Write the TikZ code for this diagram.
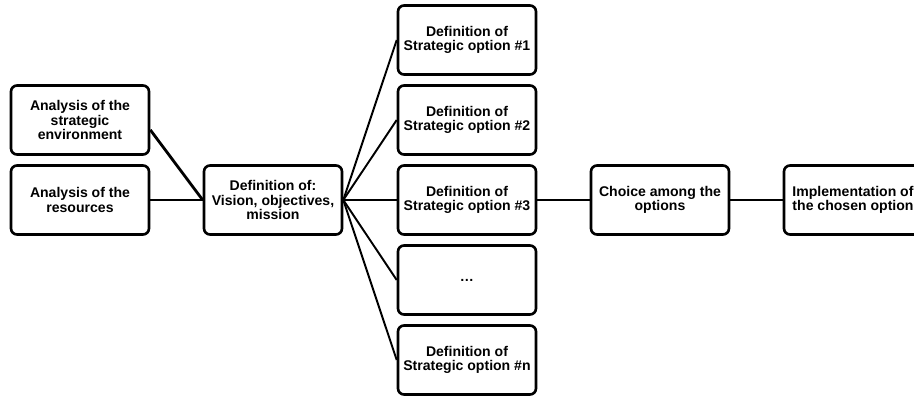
\documentclass[tikz,border=0pt]{standalone}
\usepackage{fontspec}
\setmainfont{Liberation Sans}
\begin{document}
\begin{tikzpicture}[x=0.02cm,y=-0.02cm,
  box/.style={draw=black, line width=1.5pt, rounded corners=0.12cm,
    minimum width=2.76cm, minimum height=1.38cm, align=center,
    inner sep=1pt, font=\fontsize{8}{8}\selectfont\bfseries},
  link/.style={draw=black, line width=1.1pt}]
\useasboundingbox (0,0) rectangle (914,396);
\clip (0,0) rectangle (914,396);
\fill[white] (0,0) rectangle (914,396);

% input analyses
\node[box] (env) at (80,120) {Analysis of the\\strategic\\environment};
\node[box] (res) at (80,200) {Analysis of the\\resources};

% vision and objectives
\node[box] (vis) at (273,200) {Definition of:\\Vision, objectives,\\mission};

% strategic options
\node[box] (o1) at (467,40)  {Definition of\\Strategic option \#1};
\node[box] (o2) at (467,120) {Definition of\\Strategic option \#2};
\node[box] (o3) at (467,200) {Definition of\\Strategic option \#3};
\node[box] (od) at (467,280) {\raisebox{-0.25em}{\dots}};
\node[box] (on) at (467,360) {Definition of\\Strategic option \#n};

% decision and execution
\node[box] (cho) at (660,200) {Choice among the\\options};
\node[box] (imp) at (853,200) {Implementation of\\the chosen option};

% connectors
\draw[link, line width=1.6pt] (env.-8) -- (vis.west);
\draw[link] (res.east) -- (vis.west);
\foreach \o in {o1,o2,o3,od,on}
  \draw[link] (vis.east) -- (\o.west);
\draw[link] (o3.east) -- (cho.west);
\draw[link] (cho.east) -- (imp.west);
\end{tikzpicture}
\end{document}
